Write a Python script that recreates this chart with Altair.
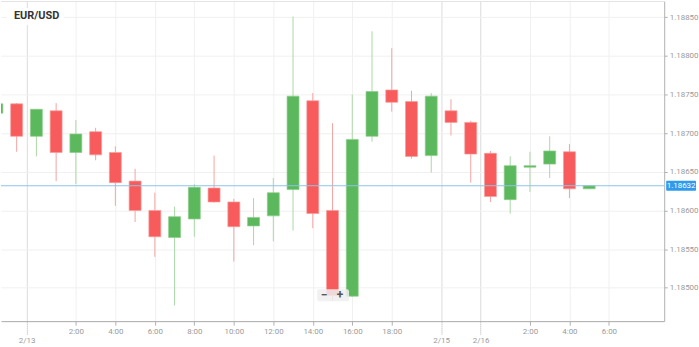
import altair as alt
import pandas as pd

# ---- data (hourly EUR/USD candles) ----
idx = list(range(31))
opens = [1.18726, 1.18738, 1.18696, 1.18729, 1.18675, 1.18702, 1.18675, 1.18638, 1.18600, 1.18565,
         1.18589, 1.18629, 1.18611, 1.18580, 1.18593, 1.18627, 1.18742, 1.18600, 1.18489, 1.18696,
         1.18756, 1.18741, 1.18671, 1.18729, 1.18714, 1.18674, 1.18614, 1.18656, 1.18660, 1.18676,
         1.18628]
highs = [1.18740, 1.18739, 1.18731, 1.18739, 1.18717, 1.18707, 1.18683, 1.18654, 1.18623, 1.18605,
         1.18634, 1.18671, 1.18615, 1.18616, 1.18642, 1.18851, 1.18752, 1.18713, 1.18750, 1.18832,
         1.18810, 1.18755, 1.18752, 1.18744, 1.18716, 1.18677, 1.18670, 1.18676, 1.18696, 1.18686,
         1.18633]
lows = [1.18725, 1.18676, 1.18670, 1.18638, 1.18634, 1.18665, 1.18606, 1.18585, 1.18540, 1.18477,
        1.18566, 1.18610, 1.18534, 1.18555, 1.18560, 1.18574, 1.18577, 1.18483, 1.18488, 1.18689,
        1.18728, 1.18667, 1.18649, 1.18697, 1.18636, 1.18611, 1.18596, 1.18624, 1.18642, 1.18616,
        1.18628]
closes = [1.18738, 1.18696, 1.18731, 1.18675, 1.18699, 1.18672, 1.18636, 1.18600, 1.18566, 1.18592,
          1.18630, 1.18611, 1.18579, 1.18591, 1.18623, 1.18748, 1.18596, 1.18490, 1.18692, 1.18754,
          1.18740, 1.18670, 1.18748, 1.18714, 1.18673, 1.18618, 1.18658, 1.18658, 1.18677, 1.18628,
          1.18632]

tick_pos = [1.5, 4, 6, 8, 10, 12, 14, 16, 18, 20, 22.5, 24.5, 27, 29, 31]
tick_text = ["2/13", "2:00", "4:00", "6:00", "8:00", "10:00", "12:00", "14:00", "16:00", "18:00",
             "2/15", "2/16", "2:00", "4:00", "6:00"]
date_ticks = [1.5, 22.5, 24.5]
y_ticks = [1.18500, 1.18550, 1.18600, 1.18650, 1.18700, 1.18750, 1.18800, 1.18850]
last_price = 1.18632
symbol = "EUR/USD"

df = pd.DataFrame({"i": idx, "open": opens, "high": highs, "low": lows, "close": closes})
df["dir"] = ["up" if c >= o else "down" for o, c in zip(opens, closes)]
price_df = pd.DataFrame({"price": [last_price], "label": [f"{last_price:.5f}"]})

FONT = "Roboto"

# label expression for x axis
expr = "''"
for p, t in reversed(list(zip(tick_pos, tick_text))):
    expr = f"datum.value == {p} ? '{t}' : ({expr})"
date_test = " || ".join(f"datum.value == {p}" for p in date_ticks)

x_scale = alt.Scale(domain=[0.207, 33.8], nice=False, zero=False, padding=0)
y_scale = alt.Scale(domain=[1.184567, 1.188712], nice=False, zero=False, padding=0)

x_axis = alt.Axis(
    values=tick_pos, labelExpr=expr, title=None,
    grid=True,
    gridColor={"condition": {"test": date_test, "value": "#dcdcdc"}, "value": "#f0f0f0"},
    gridWidth=1,
    domainColor="#a8a8a8", tickColor="#b0b0b0",
    tickSize={"condition": {"test": date_test, "value": 13}, "value": 4},
    tickDash={"condition": {"test": date_test, "value": [1, 1]}, "value": []},
    labelColor="#9a9a9a", labelFont=FONT, labelFontSize=8, labelPadding=2,
    labelFlush=False, labelOverlap=False,
)
y_axis = alt.Axis(
    values=y_ticks, format=".5f", orient="right", title=None,
    grid=True, gridColor="#f0f0f0", domainColor="#b0b0b0",
    tickColor="#b0b0b0", tickSize=3, labelPadding=2,
    labelColor="#9a9a9a", labelFont=FONT, labelFontSize=8,
)

X = alt.X("i:Q", scale=x_scale, axis=x_axis)

base = alt.Chart(df)

wicks = base.mark_rule(strokeWidth=1, clip=True).encode(
    x=X,
    y=alt.Y("low:Q", scale=y_scale, axis=y_axis),
    y2="high:Q",
    color=alt.Color("dir:N", scale=alt.Scale(domain=["up", "down"], range=["#aad8a6", "#f5a3a3"]), legend=None),
)

bodies = base.mark_bar(size=12, clip=True, strokeWidth=1, strokeOpacity=0.7).encode(
    x=X,
    y=alt.Y("open:Q", scale=y_scale, axis=y_axis),
    y2="close:Q",
    fill=alt.Fill("dir:N", scale=alt.Scale(domain=["up", "down"], range=["#5cb85c", "#f75b5b"]), legend=None),
    stroke=alt.Stroke("dir:N", scale=alt.Scale(domain=["up", "down"], range=["#8ccc8a", "#f89a9a"]), legend=None),
)

pbase = alt.Chart(price_df)
price_line = pbase.mark_rule(color="#8cc4ea", strokeWidth=1).encode(
    y=alt.Y("price:Q", scale=y_scale, axis=y_axis),
)
price_box = pbase.mark_rect(color="#2f9bec", yOffset=-5, y2Offset=5, cornerRadius=1).encode(
    x=alt.value(669), x2=alt.value(699),
    y=alt.Y("price:Q", scale=y_scale, axis=y_axis), y2="price:Q",
)
price_text = pbase.mark_text(color="white", font=FONT, fontSize=8, align="center", baseline="middle").encode(
    x=alt.value(684),
    y=alt.Y("price:Q", scale=y_scale, axis=y_axis),
    text="label:N",
)

top_border = pbase.mark_rule(color="#e4e4e4", strokeWidth=1).encode(
    x=alt.value(0), x2=alt.value(667), y=alt.value(0.5)
)

title_bg = pbase.mark_rect(color="white").encode(
    x=alt.value(6), x2=alt.value(63), y=alt.value(7), y2=alt.value(24)
)
title_txt = pbase.mark_text(font=FONT, fontSize=11, fontWeight="bold", color="#333333",
                            align="left", baseline="middle").encode(
    x=alt.value(13), y=alt.value(15.5), text=alt.value(symbol)
)

zoom_bg = pbase.mark_rect(color="#eeeeee", opacity=0.85, cornerRadius=2).encode(
    x=alt.value(318), x2=alt.value(350), y=alt.value(290), y2=alt.value(302)
)
zoom_minus = pbase.mark_text(font=FONT, fontSize=12, fontWeight="bold", color="#555555",
                             align="center", baseline="middle").encode(
    x=alt.value(325), y=alt.value(296), text=alt.value("−")
)
zoom_plus = pbase.mark_text(font=FONT, fontSize=12, fontWeight="bold", color="#555555",
                            align="center", baseline="middle").encode(
    x=alt.value(341), y=alt.value(296), text=alt.value("+")
)

chart = alt.layer(
    wicks, bodies, price_line, price_box, price_text, top_border,
    title_bg, title_txt, zoom_bg, zoom_minus, zoom_plus
).properties(
    width=667, height=322, padding=0, background="white"
).configure_view(stroke=None)

chart.save("out.html", embed_options={"renderer": "svg", "actions": False})
